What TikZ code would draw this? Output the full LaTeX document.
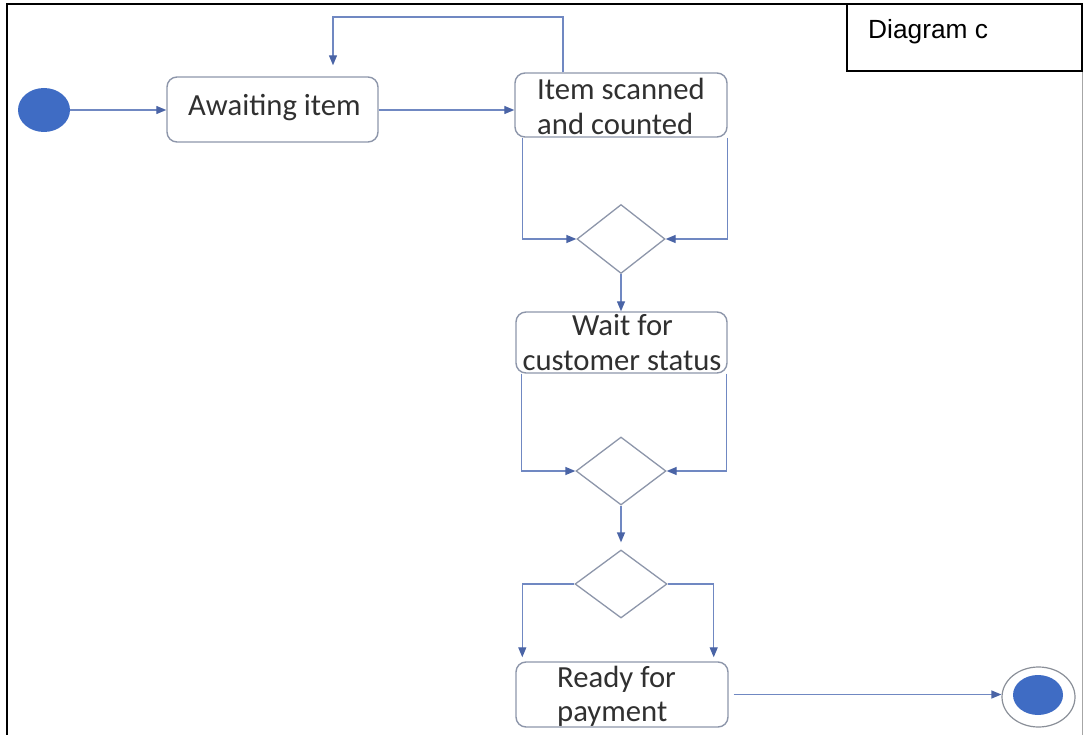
\documentclass[tikz,border=0pt]{standalone}
\usepackage{fontspec}
\setmainfont{Carlito}
\newfontfamily\labelfont{Liberation Sans}
\usetikzlibrary{shapes.geometric,arrows.meta}
\definecolor{fillblue}{HTML}{3F6CC4}
\definecolor{connc}{HTML}{7088C2}
\definecolor{arrc}{HTML}{4A64A6}
\definecolor{boxc}{HTML}{8D96AA}
\definecolor{ringc}{HTML}{8A8F98}
\definecolor{txtc}{HTML}{303030}
\tikzset{
  statebox/.style={draw=boxc, line width=1.4pt, rounded corners=10pt, rectangle, inner sep=0pt},
  decis/.style={draw=boxc, line width=1.3pt, diamond, inner sep=0pt},
  conn/.style={draw=connc, line width=1.3pt},
  arr/.style={conn, -{Triangle[length=10pt,width=8pt,color=arrc]}},
  txt/.style={font=\fontsize{30.7}{35}\selectfont, text=txtc, inner sep=0pt},
}
\begin{document}
\begin{tikzpicture}[x=1pt,y=-1pt]
\useasboundingbox (0,0) rectangle (1084,735);
% frame
\draw[black, line width=2pt] (7,735) -- (7,4) -- (847,4);
\draw[gray!70, line width=1pt] (1082,71) -- (1082,735);
\node[draw=black, line width=2pt, rectangle, inner sep=0pt, minimum width=235pt, minimum height=67pt] (lbl) at (964.5,37.5) {};
\node[font=\labelfont\fontsize{26.3}{30}\selectfont, inner sep=0pt, anchor=base west] (lbltxt) at (868,39) {Diagram c};
% start
\node[ellipse, fill=fillblue, minimum width=52pt, minimum height=44pt, inner sep=0pt] (start) at (44,110) {};
% boxes
\node[statebox, minimum width=211pt, minimum height=65pt] (aw) at (272.5,109.5) {};
\node[txt, anchor=base west] (awt) at (188,116) {Awaiting item};
\node[statebox, minimum width=212pt, minimum height=64pt] (is) at (621,105) {};
\node[txt, anchor=base west] (ist1) at (537,100) {Item scanned};
\node[txt, anchor=base west] (ist2) at (537,135) {and counted};
\node[statebox, minimum width=211pt, minimum height=61pt] (ws) at (621.5,342.5) {};
\node[txt, anchor=base] (wst1) at (622.5,335) {Wait for};
\node[txt, anchor=base] (wst2) at (622,370) {customer status};
\node[statebox, minimum width=212pt, minimum height=65pt] (rp) at (622,694.5) {};
\node[txt, anchor=base west] (rpt1) at (557,687) {Ready for};
\node[txt, anchor=base west] (rpt2) at (557,721) {payment};
% decisions
\node[decis, minimum width=88pt, minimum height=69pt] (d1) at (621,239) {};
\node[decis, minimum width=90pt, minimum height=68pt] (d2) at (621,471) {};
\node[decis, minimum width=92pt, minimum height=68pt] (d3) at (621,584) {};
% end
\node[ellipse, draw=ringc, line width=1.2pt, minimum width=73pt, minimum height=60pt, inner sep=0pt] (endo) at (1038.5,697) {};
\node[ellipse, fill=fillblue, minimum width=50pt, minimum height=40pt, inner sep=0pt] (endi) at (1038,695) {};
% connectors
\draw[arr] (start.east) -- (start.east -| aw.west);
\draw[arr] (aw.east |- 0,110) -- (is.west |- 0,110);
\coordinate (loopR) at (563,17);
\coordinate (loopL) at (333,17);
\draw[arr, shorten >=11pt] (is.north -| loopR) -- (loopR) -- (loopL) -- (aw.north -| loopL);
\draw[arr] ([xshift=8pt]is.south west) |- (d1.west);
\draw[arr] (is.south east) |- (d1.east);
\draw[arr] (d1.south) -- (d1.south |- ws.north);
\draw[arr] ([xshift=6pt]ws.south west) |- (d2.west);
\draw[arr] ([xshift=-1pt]ws.south east) |- (d2.east);
\draw[arr, shorten >=7pt] (d2.south) -- (d3.north);
\draw[arr, shorten >=4pt] (d3.west) -| ([xshift=7pt]rp.north west);
\draw[arr, shorten >=4pt] (d3.east) -| ([xshift=-15pt]rp.north east);
\draw[arr] ([xshift=5pt]rp.east) -- (rp.east -| endo.west);
\end{tikzpicture}
\end{document}
